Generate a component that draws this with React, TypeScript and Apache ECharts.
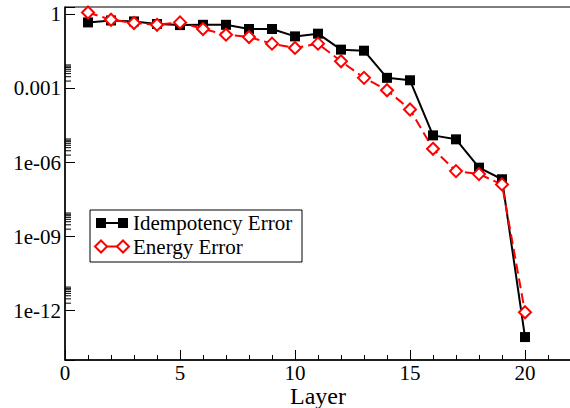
import React, { useEffect, useRef } from "react";
import * as echarts from "echarts";

const layers = [1, 2, 3, 4, 5, 6, 7, 8, 9, 10, 11, 12, 13, 14, 15, 16, 17, 18, 19, 20];
const idempotencyError = [
  0.475, 0.57, 0.52, 0.41, 0.37, 0.38, 0.38, 0.257, 0.257, 0.129,
  0.166, 0.0375, 0.034, 0.0027, 0.00215, 1.26e-5, 8.7e-6, 6.2e-7, 2.1e-7, 8.5e-14,
];
const energyError = [
  1.2, 0.61, 0.45, 0.38, 0.475, 0.257, 0.151, 0.122, 0.0655, 0.0439,
  0.0655, 0.0126, 0.0027, 8.5e-4, 1.41e-4, 3.6e-6, 4.5e-7, 3.4e-7, 1.3e-7, 8.6e-13,
];
const seriesNames = ["Idempotency Error", "Energy Error"];
const xAxisName = "Layer";
const xTickLabels = ["0", "5", "10", "15", "20"];
const yTickExponents = [-12, -9, -6, -3, 0];
const yTickLabels = ["1e-12", "1e-09", "1e-06", "0.001", "1"];
const yMinorMantissas = [2, 3, 4, 5, 6, 7, 8, 9];
const yMinorDecades = [1e-12, 1e-9, 1e-6, 1e-3];

const FONT = "Liberation Serif";

export default function App() {
  const ref = useRef<HTMLDivElement>(null);
  useEffect(() => {
    if (!ref.current) return;
    const chart = echarts.init(ref.current, undefined, { renderer: "svg" });
    const minorTicks: number[][] = [];
    yMinorDecades.forEach((d) => yMinorMantissas.forEach((m) => minorTicks.push([0, m * d])));

    const legendX = 90;
    const legendY = 210;
    const row1 = 223;
    const row2 = 246.5;
    const m1 = 101;
    const m2 = 123;

    const option: any = {
      animation: false,
      backgroundColor: "#fff",
      textStyle: { fontFamily: FONT },
      grid: {
        left: 65,
        top: 7,
        right: -1,
        bottom: 48,
        outerBoundsMode: "none",
        containLabel: false,
        show: true,
        borderColor: "#000",
        borderWidth: 1,
        backgroundColor: "transparent",
      },
      xAxis: [
        {
          type: "value",
          position: "bottom",
          min: 0,
          max: 22,
          interval: 5,
          name: xAxisName,
          nameLocation: "middle",
          nameGap: 24,
          nameMoveOverlap: false,
          nameTextStyle: { fontSize: 24, color: "#000", fontFamily: FONT },
          axisLine: { show: true, lineStyle: { color: "#000", width: 1.5 } },
          axisTick: { show: true, inside: true, length: 10, lineStyle: { color: "#000", width: 1 } },
          axisLabel: {
            color: "#000",
            fontSize: 21,
            fontFamily: FONT,
            margin: 2,
            formatter: (v: number) => {
              const s = String(v);
              return xTickLabels.includes(s) ? s : "";
            },
          },
          splitLine: { show: false },
        },
        {
          type: "value",
          position: "bottom",
          min: 0,
          max: 22,
          interval: 1,
          axisLine: { show: false },
          axisTick: { show: true, inside: true, length: 5, lineStyle: { color: "#000", width: 1 } },
          axisLabel: { show: false },
          splitLine: { show: false },
        },
      ],
      yAxis: {
        type: "log",
        logBase: 1000,
        min: 1e-14,
        max: 2,
        axisLine: { show: true, lineStyle: { color: "#000", width: 1.5 } },
        axisTick: { show: true, inside: true, length: 10, lineStyle: { color: "#000", width: 1 } },
        axisLabel: {
          color: "#000",
          fontSize: 21,
          fontFamily: FONT,
          margin: 4,
          formatter: (v: number) => {
            const e = Math.log10(v);
            const i = yTickExponents.findIndex((x) => Math.abs(x - e) < 0.01);
            return i >= 0 ? yTickLabels[i] : "";
          },
        },
        splitLine: { show: false },
        minorTick: { show: false },
      },
      series: [
        {
          type: "custom",
          name: "minorTicks",
          silent: true,
          clip: false,
          xAxisIndex: 0,
          data: minorTicks,
          renderItem: (params: any, api: any) => {
            const p = api.coord([api.value(0), api.value(1)]);
            return {
              type: "line",
              shape: { x1: p[0], y1: p[1], x2: p[0] + 6, y2: p[1] },
              style: { stroke: "#000", lineWidth: 1 },
            };
          },
        },
        {
          type: "line",
          name: seriesNames[0],
          xAxisIndex: 0,
          data: layers.map((x, i) => [x, idempotencyError[i]]),
          symbol: "rect",
          symbolSize: 10,
          lineStyle: { color: "#000", width: 2 },
          itemStyle: { color: "#000" },
        },
        {
          type: "line",
          name: seriesNames[1],
          xAxisIndex: 0,
          data: layers.map((x, i) => [x, energyError[i]]),
          symbol: "diamond",
          symbolSize: 12,
          lineStyle: { color: "#f00", width: 2, type: [10, 5] },
          itemStyle: { color: "#fff", borderColor: "#f00", borderWidth: 2 },
        },
      ],
      graphic: [
        {
          type: "rect",
          shape: { x: legendX, y: legendY, width: 212, height: 52 },
          style: { fill: "#fff", stroke: "#000", lineWidth: 1 },
          z: 100,
        },
        {
          type: "line",
          shape: { x1: m1, y1: row1, x2: m2, y2: row1 },
          style: { stroke: "#000", lineWidth: 2 },
          z: 101,
        },
        {
          type: "rect",
          shape: { x: m1 - 5, y: row1 - 5, width: 10, height: 10 },
          style: { fill: "#000" },
          z: 102,
        },
        {
          type: "rect",
          shape: { x: m2 - 5, y: row1 - 5, width: 10, height: 10 },
          style: { fill: "#000" },
          z: 102,
        },
        {
          type: "text",
          x: 133,
          y: row1,
          style: { text: seriesNames[0], fontSize: 21, fontFamily: FONT, fill: "#000", verticalAlign: "middle", align: "left" },
          z: 102,
        },
        {
          type: "line",
          shape: { x1: m1, y1: row2, x2: m2, y2: row2 },
          style: { stroke: "#f00", lineWidth: 2 },
          z: 101,
        },
        {
          type: "polygon",
          shape: { points: [[m1 - 6, row2], [m1, row2 - 6], [m1 + 6, row2], [m1, row2 + 6]] },
          style: { fill: "#fff", stroke: "#f00", lineWidth: 2 },
          z: 102,
        },
        {
          type: "polygon",
          shape: { points: [[m2 - 6, row2], [m2, row2 - 6], [m2 + 6, row2], [m2, row2 + 6]] },
          style: { fill: "#fff", stroke: "#f00", lineWidth: 2 },
          z: 102,
        },
        {
          type: "text",
          x: 133,
          y: row2,
          style: { text: seriesNames[1], fontSize: 21, fontFamily: FONT, fill: "#000", verticalAlign: "middle", align: "left" },
          z: 102,
        },
      ],
    };
    chart.setOption(option);
    return () => chart.dispose();
  }, []);
  return (
    <div
      ref={ref}
      style={{ position: "fixed", left: 0, top: 0, width: 570, height: 408, background: "#fff" }}
    />
  );
}
